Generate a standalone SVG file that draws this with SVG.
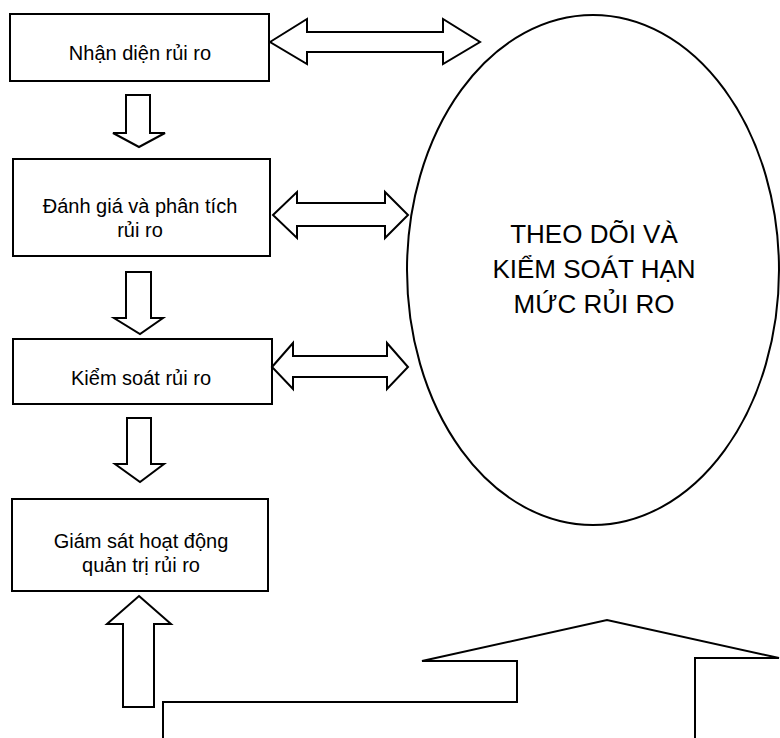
<svg xmlns="http://www.w3.org/2000/svg" width="780" height="738" viewBox="0 0 780 738">
<style>
.box{fill:#fff;stroke:#000;stroke-width:2}
.arr{fill:#fff;stroke:#000;stroke-width:2;stroke-linejoin:miter}
.t{font-family:"Liberation Sans",Arial,sans-serif;font-size:20px;fill:#000;text-anchor:middle}
.big{font-family:"Liberation Sans",Arial,sans-serif;font-size:26px;fill:#000;text-anchor:middle}
</style>
<rect width="780" height="738" fill="#fff"/>
<g id="ellipse-node">
<ellipse cx="593" cy="270" rx="186" ry="255" fill="#fff" stroke="#000" stroke-width="2"/>
<text class="big" x="594" y="243">THEO DÕI VÀ</text>
<text class="big" x="594" y="278">KIỂM SOÁT HẠN</text>
<text class="big" x="594" y="313">MỨC RỦI RO</text>
</g>
<g id="n1">
<rect class="box" x="10" y="14" width="259" height="67"/>
<text class="t" x="140" y="60">Nhận diện rủi ro</text>
</g>
<g id="n2">
<rect class="box" x="13" y="159" width="257" height="97"/>
<text class="t" x="140" y="213">Đánh giá và phân tích</text>
<text class="t" x="140" y="237">rủi ro</text>
</g>
<g id="n3">
<rect class="box" x="13" y="339" width="259" height="65"/>
<text class="t" x="141" y="385">Kiểm soát rủi ro</text>
</g>
<g id="n4">
<rect class="box" x="12" y="499" width="256" height="92"/>
<text class="t" x="141" y="548">Giám sát hoạt động</text>
<text class="t" x="141" y="572">quản trị rủi ro</text>
</g>
<g id="base-shape">
<path class="arr" fill="none" d="M163,738 V702 H517 V661 H422 L607,620 L779,658 H695 V738"/>
</g>
<g id="connectors">
<polygon class="arr" points="126,95 150,95 150,133 165,133 139,147 113,133 126,133"/>
<polygon class="arr" points="126,272 151,272 151,318 163,318 140,334 114,318 126,318"/>
<polygon class="arr" points="127,418 151,418 151,464 164,464 140,482 115,464 127,464"/>
<polygon class="arr" points="139,596 171,624 154,624 154,707 123,707 123,624 107,624"/>
<polygon class="arr" points="270,42 307,19 307,32 443,32 443,19 480,42 443,64 443,52 307,52 307,64"/>
<polygon class="arr" points="273,215 297,192 297,203 385,203 385,192 408,215 385,238 385,226 297,226 297,238"/>
<polygon class="arr" points="272,367 293,343 293,356 387,356 387,343 408,367 387,389 387,377 293,377 293,389"/>
</g>
</svg>
